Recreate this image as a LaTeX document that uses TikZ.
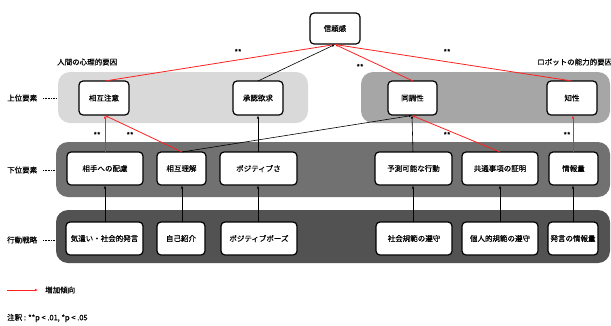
\documentclass[tikz,border=0pt]{standalone}
\usepackage{fontspec}
\setmainfont{Noto Sans CJK JP}[UprightFeatures={FakeBold=0.6}, BoldFeatures={FakeBold=0.6}]
\usetikzlibrary{arrows.meta}
\definecolor{bandA}{HTML}{D9D9D9}
\definecolor{bandB}{HTML}{A6A6A6}
\definecolor{bandC}{HTML}{717171}
\definecolor{bandD}{HTML}{525252}
\definecolor{redline}{HTML}{FF2020}
\begin{document}
\begin{tikzpicture}[x=1pt,y=-1pt,
  every node/.style={font=\fontsize{7.5}{9}\selectfont, inner sep=0pt},
  band/.style={rounded corners=12pt, draw=none},
  box/.style={draw=black, line width=1.2pt, fill=white, rounded corners=4pt},
  lbl/.style={anchor=west},
  arr/.style={-{Latex[length=3pt,width=2.5pt]}, line width=0.6pt, black},
  rarr/.style={-{Latex[length=3pt,width=2.5pt]}, line width=0.8pt, redline},
  dots/.style={densely dotted, line width=0.6pt}
]
\useasboundingbox (0,0) rectangle (611,325);
% bands
\fill[band, bandA] (58,72) rectangle (308,123);
\fill[band, bandB] (361,72) rectangle (610,123);
\fill[band, bandC] (56,142) rectangle (610,197);
\fill[band, bandD] (56,210) rectangle (610,263);

% boxes
\newcommand{\mybox}[6]{\draw[box] (#2,#3) rectangle (#4,#5); \node (#1) [minimum width=#4pt-#2pt, minimum height=#5pt-#3pt] at ({(#2+#4)/2},{(#3+#5)/2}) {#6};}
\mybox{trust}{310}{13}{360}{44}{信頼感}
\mybox{sogochui}{79}{81}{129}{115}{相互注意}
\mybox{shonin}{233}{81}{283}{115}{承認欲求}
\mybox{docho}{388}{81}{437}{115}{同調性}
\mybox{chisei}{547}{81}{597}{115}{知性}

\mybox{hairyo}{67}{152}{143}{185}{相手への配慮}
\mybox{rikai}{157}{152}{206}{185}{相互理解}
\mybox{posi}{220}{152}{297}{185}{ポジティブさ}
\mybox{yosoku}{375}{152}{452}{185}{予測可能な行動}
\mybox{kyotsu}{462}{152}{538}{185}{共通事項の証明}
\mybox{joho}{549}{152}{598}{185}{情報量}

\mybox{kizukai}{66}{222}{143}{255}{気遣い・社会的発言}
\mybox{jiko}{157}{222}{205}{255}{自己紹介}
\mybox{pose}{221}{222}{297}{255}{ポジティブポーズ}
\mybox{shakai}{376}{222}{452}{255}{社会規範の遵守}
\mybox{kojin}{462}{222}{538}{255}{個人的規範の遵守}
\mybox{hatsugen}{548}{222}{598}{255}{発言の情報量}

% top connectors
\coordinate (tin) at (335,44.5);
\draw[rarr] (105,81) -- (tin);
\draw[arr] (258,81) -- (tin);
\draw[rarr] (413,81) -- (tin);
\draw[rarr] (572,81) -- (tin);

% middle to upper
\draw[rarr] (105,152) -- (105,115.5);
\draw[rarr] (182,152) -- (105,115.5);
\draw[arr] (182,152) -- (412,115.5);
\draw[arr] (258,152) -- (258,115.5);
\draw[arr] (413,152) -- (412,115.5);
\draw[rarr] (500,152) -- (412,115.5);
\draw[rarr] (573,152) -- (573,115.5);

% bottom to middle
\draw[arr] (105,222) -- (105,185.5);
\draw[arr] (182,222) -- (182,185.5);
\draw[arr] (258,222) -- (258,185.5);
\draw[arr] (413,222) -- (413,185.5);
\draw[arr] (500,222) -- (500,185.5);
\draw[arr] (573,222) -- (573,185.5);

% stars
\node at (238,52) {**};
\node at (447,52) {**};
\node at (360,67) {**};
\node at (97,135) {**};
\node at (130,135) {**};
\node at (447,135) {**};
\node at (567,135) {**};

% group titles
\node[lbl] at (57,62) {人間の心理的要因};
\node[lbl] at (537,62) {ロボットの能力的要因};

% side labels
\node[lbl] (l1) at (7,98) {上位要素};
\node[lbl] (l2) at (7,170) {下位要素};
\node[lbl] (l3) at (7,240) {行動戦略};
\draw[dots] (43,98) -- (57,98);
\draw[dots] (43,170) -- (55,170);
\draw[dots] (43,240) -- (55,240);

% legend
\coordinate (lg1) at (7,290);
\coordinate (lg2) at (38,290);
\draw[rarr] (lg1) -- (lg2);
\node[lbl] at (45,290) {増加傾向};
\node[lbl] at (7,318) {注釈 : **p < .01, *p < .05};
\end{tikzpicture}
\end{document}
